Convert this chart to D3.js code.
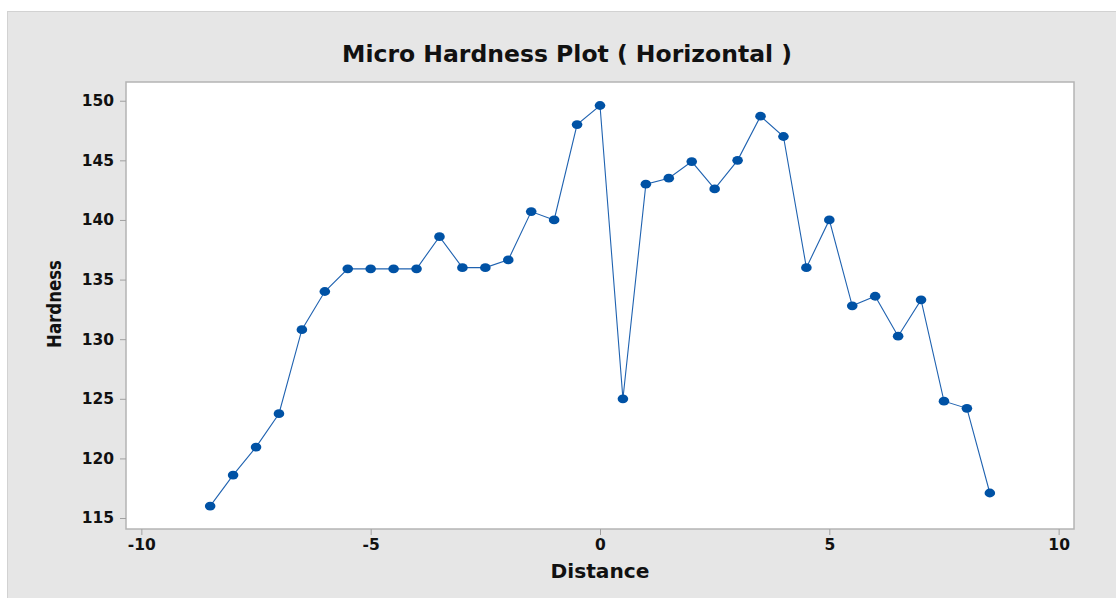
<!DOCTYPE html>
<meta charset="utf-8">
<script src="https://d3js.org/d3.v7.min.js"></script>
<style>
  body { margin: 0; background: #fff; }
  text { font-family: "DejaVu Sans", Verdana, sans-serif; font-weight: bold; fill: #111; }
</style>
<body>
<div id="my_dataviz"></div>
<script>

// data
var distance = [-8.5, -8, -7.5, -7, -6.5, -6, -5.5, -5, -4.5, -4, -3.5, -3, -2.5, -2, -1.5, -1, -0.5, 0,
                0.5, 1, 1.5, 2, 2.5, 3, 3.5, 4, 4.5, 5, 5.5, 6, 6.5, 7, 7.5, 8, 8.5];
var hardness = [116.0, 118.6, 120.95, 123.75, 130.8, 134.0, 135.9, 135.9, 135.9, 135.9, 138.6, 136.0, 136.0, 136.65, 140.7, 140.0, 148.0, 149.6,
                125.0, 143.0, 143.5, 144.9, 142.6, 145.0, 148.7, 147.0, 136.0, 140.0, 132.8, 133.6, 130.25, 133.3, 124.8, 124.2, 117.1];
var xTicks = [-10, -5, 0, 5, 10];
var yTicks = [115, 120, 125, 130, 135, 140, 145, 150];

var W = 1116, H = 598;
var margin = {top: 82, right: 42, bottom: 69, left: 126},
    width = W - margin.left - margin.right,
    height = H - margin.top - margin.bottom;

var svg = d3.select("#my_dataviz")
  .append("svg")
    .attr("width", W)
    .attr("height", H);

// grey outer panel
svg.append("rect")
  .attr("x", 7.5).attr("y", 11.5)
  .attr("width", W).attr("height", H)
  .attr("fill", "#e6e6e6")
  .attr("stroke", "#d2d2d2");

var g = svg.append("g")
  .attr("transform", "translate(" + margin.left + "," + margin.top + ")");

// plot area
g.append("rect")
  .attr("width", width).attr("height", height)
  .attr("fill", "#fff")
  .attr("stroke", "#b4b4b4")
  .attr("stroke-width", 1.5);

var x = d3.scaleLinear().domain([-10.335, 10.335]).range([0, width]);
var y = d3.scaleLinear().domain([114.08, 151.57]).range([height, 0]);

// X axis (plain hyphen for negatives, like the original)
var xAxis = g.append("g")
  .attr("transform", "translate(0," + height + ")")
  .call(d3.axisBottom(x).tickValues(xTicks).tickSize(6).tickPadding(4)
    .tickFormat(function(d) { return String(d); }));
xAxis.select(".domain").remove();
xAxis.selectAll("line").attr("stroke", "#a0a0a0");
xAxis.selectAll("text").style("font-size", "15.5px").attr("fill", "#111");

// Y axis
var yAxis = g.append("g")
  .call(d3.axisLeft(y).tickValues(yTicks).tickSize(6).tickPadding(6));
yAxis.select(".domain").remove();
yAxis.selectAll("line").attr("stroke", "#a0a0a0");
yAxis.selectAll("text").style("font-size", "15.5px").attr("fill", "#111");

// title and axis labels
svg.append("text")
  .attr("x", 567).attr("y", 62)
  .style("text-anchor", "middle")
  .style("font-size", "23px")
  .attr("textLength", 450)
  .attr("lengthAdjust", "spacingAndGlyphs")
  .text("Micro Hardness Plot ( Horizontal )");

svg.append("text")
  .attr("x", 600).attr("y", 578)
  .style("text-anchor", "middle")
  .style("font-size", "20px")
  .attr("textLength", 99)
  .attr("lengthAdjust", "spacingAndGlyphs")
  .text("Distance");

svg.append("text")
  .attr("transform", "translate(61,304) rotate(-90)")
  .style("text-anchor", "middle")
  .style("font-size", "19px")
  .attr("textLength", 88)
  .attr("lengthAdjust", "spacingAndGlyphs")
  .text("Hardness");

// line + markers
var pts = distance.map(function(d, i) { return {x: d, y: hardness[i]}; });

g.append("path")
  .datum(pts)
  .attr("fill", "none")
  .attr("stroke", "#1f62b0")
  .attr("stroke-width", 1.1)
  .attr("d", d3.line().x(function(d) { return x(d.x); }).y(function(d) { return y(d.y); }));

g.selectAll("ellipse")
  .data(pts)
  .enter()
  .append("ellipse")
    .attr("cx", function(d) { return x(d.x); })
    .attr("cy", function(d) { return y(d.y); })
    .attr("rx", 5.3)
    .attr("ry", 4.4)
    .attr("fill", "#0052a5");

</script>
</body>
